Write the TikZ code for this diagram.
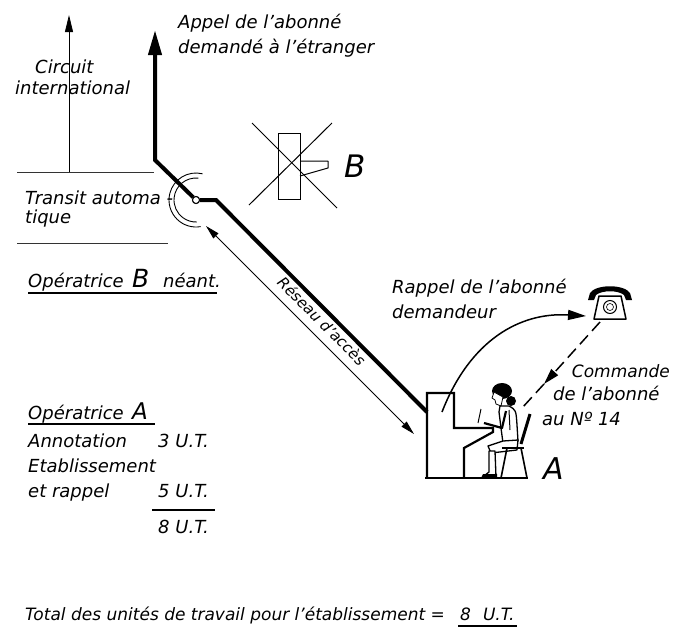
\documentclass[tikz,border=0pt]{standalone}
\usepackage{fontspec}
\setmainfont{DejaVu Sans}
\usetikzlibrary{arrows.meta}
\begin{document}
\begin{tikzpicture}[x=1pt,y=-1pt,
  lbl/.style={font=\itshape\fontsize{18}{21}\selectfont, inner sep=0pt, anchor=base west},
  smalllbl/.style={font=\itshape\fontsize{15}{18}\selectfont, inner sep=0pt},
  totallbl/.style={font=\itshape\fontsize{17}{20}\selectfont, inner sep=0pt, anchor=base west},
  bigletter/.style={font=\itshape\fontsize{31}{34}\selectfont, inner sep=0pt, anchor=base west},
  midletter/.style={font=\itshape\fontsize{25}{28}\selectfont, inner sep=0pt, anchor=base west},
  thinline/.style={line width=0.8pt},
  rule/.style={line width=0.7pt, black!80},
  trunk/.style={line width=4pt, line join=miter},
  outline/.style={line width=1.3pt, line join=round},
  switchnode/.style={circle, draw, fill=white, line width=1pt, minimum size=7pt, inner sep=0pt},
]
\useasboundingbox (0,0) rectangle (686,630);

% --- left column: international circuit and automatic transit
\coordinate (ciBot) at (69,172);
\coordinate (ciTop) at (69,15);
\draw[thinline, -{Triangle[length=17pt,width=8pt]}] (ciBot) -- (ciTop);
\coordinate (ruleAa) at (17,172); \coordinate (ruleAb) at (154,172);
\coordinate (ruleBa) at (17,243); \coordinate (ruleBb) at (168,243);
\draw[rule] (ruleAa) -- (ruleAb);
\draw[rule] (ruleBa) -- (ruleBb);
\node[lbl] (circuit) at (35,73) {Circuit};
\node[lbl] (internat) at (15,94) {international};
\node[lbl] (transit) at (25,204) {Transit automa -};
\node[lbl] (tique) at (25,223) {tique};

% --- trunk line from operator A to the foreign subscriber
\coordinate (tkTop) at (155,30);
\coordinate (tkBend) at (155,160);
\node[switchnode] (sw) at (196,200) {};
\coordinate (swOut) at (216,200);
\coordinate (deskIn) at (427,412);
\draw[trunk, -{Triangle[length=25pt,width=13pt]}] (sw) -- (tkBend) -- (tkTop);
\draw[trunk] (sw) -- (swOut) -- (deskIn);
\node[switchnode] at (sw) {};
% selector symbol (double arc)
\draw[line width=0.9pt] ([shift={(-76:27)}]sw.center) arc[start angle=-76, end angle=-280, radius=27];
\draw[line width=0.9pt] ([shift={(-84:22)}]sw.center) arc[start angle=-84, end angle=-272, radius=22];

\node[lbl] (appel) at (178,28) {Appel de l'abonné};
\node[lbl] (etranger) at (178,53) {demandé à l'étranger};

% --- access network arrow
\coordinate (rA) at (206,226);
\coordinate (rB) at (414,434);
\draw[thinline, {Triangle[length=14pt,width=7pt]}-{Triangle[length=14pt,width=7pt]}] (rA) -- (rB);
\node[smalllbl, rotate=-45] (reseau) at (322,321) {Réseau d'accès};

% --- operator B position, crossed out
\node[draw, line width=1pt, minimum width=22pt, minimum height=66pt, inner sep=0pt] (posB) at (289,166) {};
\draw[line width=1pt, line join=round] (300,161) -- (328,161) -- (328,168) -- (300,176);
\draw[line width=1pt] (252,123) -- (337,208);
\draw[line width=1pt] (332,123) -- (249,205);
\node[bigletter] (labB) at (344,177) {B};

% --- operator B summary
\node[lbl] (opB) at (28,287) {Opératrice};
\node[midletter] (opBletter) at (132,287) {B};
\node[lbl] (neant) at (163,287) {néant.};
\coordinate (ulBa) at (28,293); \coordinate (ulBb) at (217,293);
\draw[line width=1.3pt] (ulBa) -- (ulBb);

% --- operator A summary
\node[lbl] (opA) at (28,419) {Opératrice};
\node[midletter, font=\itshape\fontsize{23}{26}\selectfont] (opAletter) at (132,419) {A};
\coordinate (ulAa) at (28,424); \coordinate (ulAb) at (155,424);
\draw[line width=1.3pt] (ulAa) -- (ulAb);
\node[lbl] (annot) at (28,447) {Annotation};
\node[lbl] (annotUT) at (158,447) {3 U.T.};
\node[lbl] (etab) at (28,472) {Etablissement};
\node[lbl] (rappelL) at (28,497) {et rappel};
\node[lbl] (rappelUT) at (158,497) {5 U.T.};
\coordinate (sumA) at (152,510); \coordinate (sumB) at (215,510);
\draw[line width=1.3pt] (sumA) -- (sumB);
\node[lbl] (sumUT) at (158,533) {8 U.T.};

% --- total
\node[totallbl] (total) at (25,620) {Total des unités de travail pour l'établissement =};
\node[totallbl] (totalUT) at (460,620) {8\hspace{12pt}U.T.};
\coordinate (ulTa) at (458,626); \coordinate (ulTb) at (517,626);
\draw[line width=1.3pt] (ulTa) -- (ulTb);

% --- operator A desk
\draw[line width=2.2pt, line join=miter] (427,478) -- (427,393) -- (454,393) -- (454,428) -- (493,428) -- (493,432) -- (464,448) -- (464,478);
\draw[line width=2.2pt] (425,478) -- (528,478);

% operator A (seated figure)
\fill (502,391) ellipse [x radius=10, y radius=8];
\fill (511,401) circle (5);
\filldraw[fill=white, line width=0.8pt] (494,392) -- (492,398) -- (495,400) -- (496,404) -- (501,406) -- (503,397) -- cycle;
\filldraw[fill=white, outline] (500,406) -- (509,406) .. controls (516,410) .. (517,425) -- (518,441) -- (503,443) -- (501,428) -- (499,412) -- cycle;
\draw[line width=1pt] (509,410) -- (510,430);
\draw[line width=2.2pt, line join=round] (506,411) -- (502,428) -- (484,423);
\draw[line width=1pt] (478,423) -- (481,409);
\filldraw[fill=white, outline] (518,440) -- (517,450) -- (491,453) -- (488,446) -- (503,441) -- cycle;
\filldraw[fill=white, outline] (489,451) -- (489,472) -- (484,476) -- (496,477) -- (495,451) -- cycle;
\fill (483,474) -- (497,474) -- (497,478) -- (481,478) -- cycle;
% chair
\draw[line width=3pt] (530,414) -- (521,444);
\draw[line width=2.2pt] (502,448) -- (524,448);
\draw[line width=1.6pt] (507,448) -- (501,478);
\draw[line width=1.6pt] (521,448) -- (527,478);
\node[bigletter, font=\itshape\fontsize{30}{33}\selectfont] (labA) at (543,479) {A};

% --- subscriber telephone
\coordinate (phone) at (610,306);
\fill (588,300) -- (590,293) .. controls (596,284) and (624,284) .. (630,293) -- (632,300) -- (626,300) -- (624,295) .. controls (618,290) and (602,290) .. (596,295) -- (594,300) -- cycle;
\draw[line width=1.5pt, line join=round] (599,296) -- (621,296) -- (626,319) -- (594,319) -- cycle;
\draw[line width=1pt] (phone) ++(0,1) circle (6.5);
\draw[line width=0.6pt] (phone) ++(0,1) circle (3.5);

% recall to the calling subscriber
\coordinate (rappelStart) at (442,412);
\coordinate (phoneL) at (586,316);
\draw[line width=1.5pt, -{Triangle[length=18pt,width=10pt]}] (rappelStart) .. controls (470,340) and (520,312) .. (phoneL);
\node[lbl] (rappel1) at (392,293) {Rappel de l'abonné};
\node[lbl] (rappel2) at (392,318) {demandeur};

% order from the subscriber
\coordinate (phoneB) at (600,322);
\coordinate (dashTip) at (544,384);
\coordinate (opEar) at (522,408);
\draw[line width=1.5pt, dash pattern=on 12pt off 6pt, -{Triangle[length=16pt,width=9pt]}] (phoneB) -- (dashTip);
\draw[line width=1.5pt, dash pattern=on 12pt off 6pt] (dashTip) -- (opEar);
\node[lbl, anchor=base east, font=\itshape\fontsize{17}{20}\selectfont] (cmd1) at (670,377) {Commande};
\node[lbl] (cmd2) at (553,400) {de l'abonné};
\node[lbl] (cmd3) at (542,425) {au Nº 14};
\end{tikzpicture}
\end{document}
